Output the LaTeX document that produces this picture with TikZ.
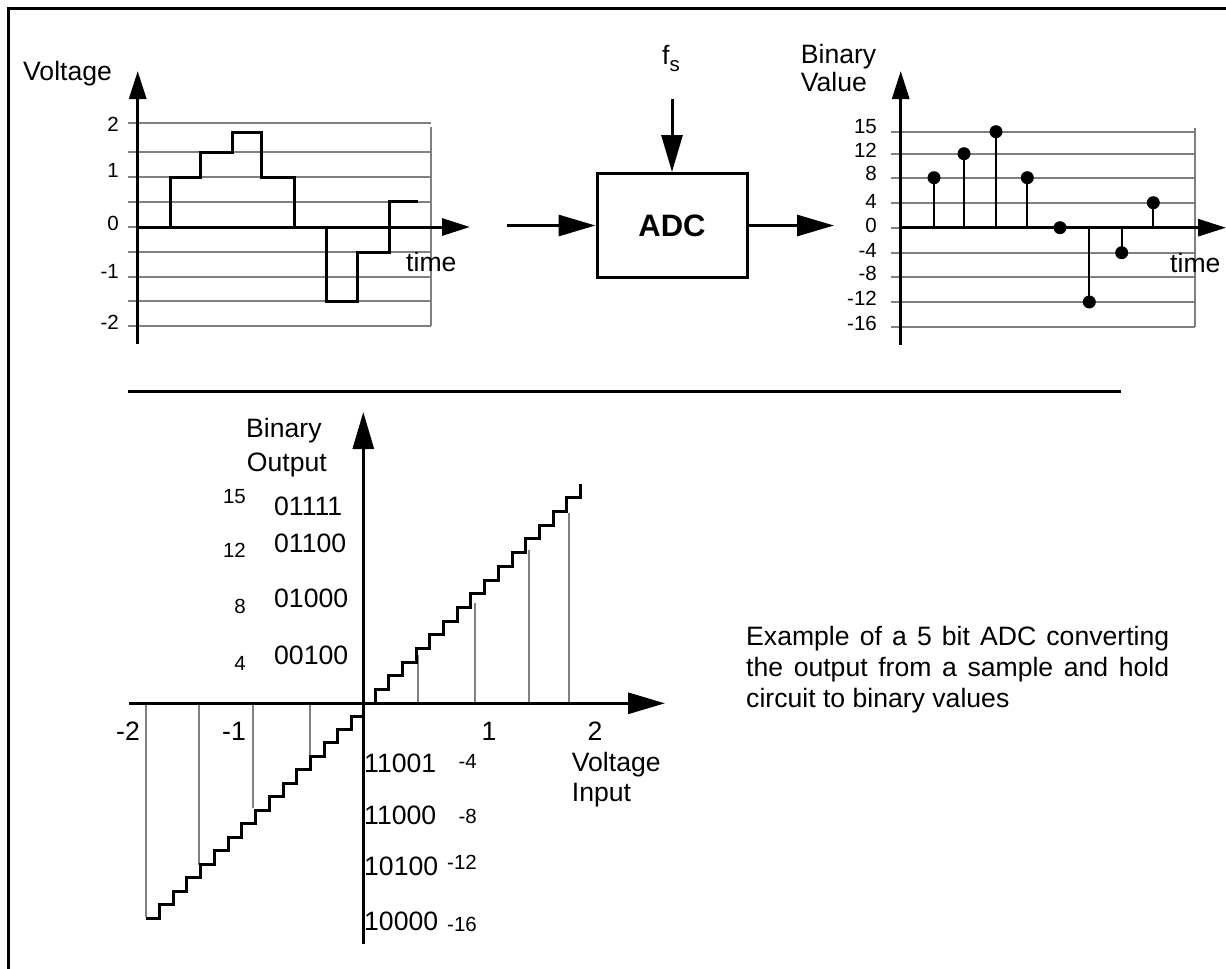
\documentclass[tikz,border=0pt]{standalone}
\usepackage{fontspec}
\setmainfont{Liberation Sans}
\usetikzlibrary{arrows.meta,positioning}
\definecolor{ink}{HTML}{000000}
\definecolor{gridgray}{HTML}{808080}

\begin{document}
\begin{tikzpicture}[x=1pt,y=-1pt,
  every node/.style={font=\fontsize{26.6}{31}\selectfont,inner sep=0pt,text=ink},
  tick/.style={font=\fontsize{20.5}{23}\selectfont},
  gridln/.style={draw=gridgray,line width=2.2pt},
  axis/.style={draw=ink,line width=3pt,-{Triangle[length=28pt,width=17pt]}},
  bigarrow/.style={draw=ink,line width=3pt,-{Triangle[length=37pt,width=21pt]}},
  stair/.style={draw=ink,line width=3pt},
  stem/.style={draw=ink,line width=2.2pt}]
  \useasboundingbox (0,0) rectangle (1226,969);
  \draw[ink,line width=3pt] (8.7,975) -- (8.7,8.7) -- (1232,8.7);

  % sample and hold input
  \foreach \y in {122.7,152,177,201.7,227,252,276.7,301,325.7}{\draw[gridln] (128,\y) -- (431,\y);}
  \draw[gridln] (431,126.7) -- (431,325.7);
  \draw[axis] (137.7,344) -- (137.7,71);
  \draw[axis] (137.7,227) -- (470,227);
  \draw[stair] (137.7,227) -- (170,227) -- (170,177) -- (200.3,177) -- (200.3,152) -- (232.3,152)
    -- (232.3,132.3) -- (261.7,132.3) -- (261.7,177) -- (294.3,177) -- (294.3,227) -- (326.7,227)
    -- (326.7,301) -- (357.7,301) -- (357.7,252) -- (389,252) -- (389,201.7) -- (418.3,201.7);
  \foreach \y/\t [count=\i] in {124/2,170/1,223/0,271/-1,322/-2}{\node[tick,anchor=east] (vt\i) at (119,\y) {\t};}
  \node[anchor=base west] (volt) at (23,80) {Voltage};
  \node[anchor=base west] (timea) at (406,271.7) {time};

  % converter
  \node[draw=ink,line width=3pt,minimum width=150pt,minimum height=104pt,
    font=\fontsize{31}{36}\selectfont\bfseries] (adc) at (672,225.5) {ADC};
  \coordinate (adcin) at (506.7,225.5);
  \coordinate (adcout) at (834,225.5);
  \coordinate (fsend) at (672,99);
  \draw[bigarrow] (adcin) -- (adc.west);
  \draw[bigarrow] (adc.east) -- (adcout);
  \draw[bigarrow] (fsend) -- (adc.north);
  \node[anchor=base west] (fs) at (662,64.3) {f\raisebox{-7pt}{\fontsize{20.5}{23}\selectfont s}};

  % sampled values
  \foreach \y in {131.7,153.7,177.7,202.7,227.7,252.7,277.3,302,326.7}{\draw[gridln] (891,\y) -- (1195,\y);}
  \draw[gridln] (1195,127.7) -- (1195,326.7);
  \draw[axis] (900.7,345) -- (900.7,71);
  \draw[axis] (900.7,227.7) -- (1226,227.7);
  \foreach \x/\y in {934/177.7,964/153.7,996/131.7,1027.3/177.7,1060/227.7,1089.3/302,1121.7/252.7,1153.3/202.7}{
    \draw[stem] (\x,227.7) -- (\x,\y);
    \fill[ink] (\x,\y) circle (6.5pt);}
  \foreach \y/\t [count=\i] in {126.7/15,150.7/12,173/8,201.7/4,225/0,250/-4,273/-8,298.3/-12,323.3/-16}{
    \node[tick,anchor=east] (bt\i) at (877,\y) {\t};}
  \node[anchor=base west] (binv) at (800.7,63.3) {Binary};
  \node[anchor=base west] (valv) at (800.7,91.7) {Value};
  \node[anchor=base west] (timeb) at (1170,272.7) {time};

  \draw[ink,line width=3pt] (128,391) -- (1121,391);

  % transfer characteristic
  \foreach \x/\y in {417.7/655,475/603.3,529.3/550,569/512.7,145.7/917.3,199.3/865,253.3/808.3,310/755}{
    \draw[gridln] (\x,703.3) -- (\x,\y);}
  \draw[bigarrow] (363.3,944.3) -- (363.3,412);
  \draw[bigarrow] (129,703.3) -- (665,703.3);
  \draw[stair] (375,703.3) \foreach \k in {0,...,14}{ -- ++(0,-13.7) -- ++(13.7,0)} -- ++(0,-13.7);
  \draw[stair] (363.3,716) -- (351.7,716) \foreach \k in {0,...,14}{ -- ++(0,13.49) -- ++(-13.74,0)};
  \node[anchor=base west] (binout) at (246,437) {Binary};
  \node[anchor=base west] (outout) at (246.7,471) {Output};
  \foreach \y/\t [count=\i] in {506.7/01111,543.3/01100,598.3/01000,655/00100}{
    \node[anchor=west] (pc\i) at (274,\y) {\t};}
  \foreach \y/\t [count=\i] in {496.7/15,550/12,606.7/8,663.3/4}{
    \node[tick,anchor=east] (pv\i) at (246,\y) {\t};}
  \foreach \y/\t [count=\i] in {763.3/11001,815/11000,866.7/10100,921.7/10000}{
    \node[anchor=west] (nc\i) at (364,\y) {\t};}
  \foreach \y/\t [count=\i] in {761.7/-4,816.7/-8,862.7/-12,924.3/-16}{
    \node[tick,anchor=east] (nv\i) at (477,\y) {\t};}
  \foreach \x/\t [count=\i] in {128/-2,234/-1,489/1,595/2}{
    \node (vx\i) at (\x,731) {\t};}
  \node[anchor=base west] (vin) at (571.7,771.7) {Voltage};
  \node[anchor=base west] (inin) at (571.7,801.5) {Input};

  \node[anchor=north west,text width=423pt,align=justify] (note) at (746,626)
    {Example of a 5 bit ADC converting\linebreak the output from a sample and hold\linebreak circuit to binary values};
\end{tikzpicture}
\end{document}
